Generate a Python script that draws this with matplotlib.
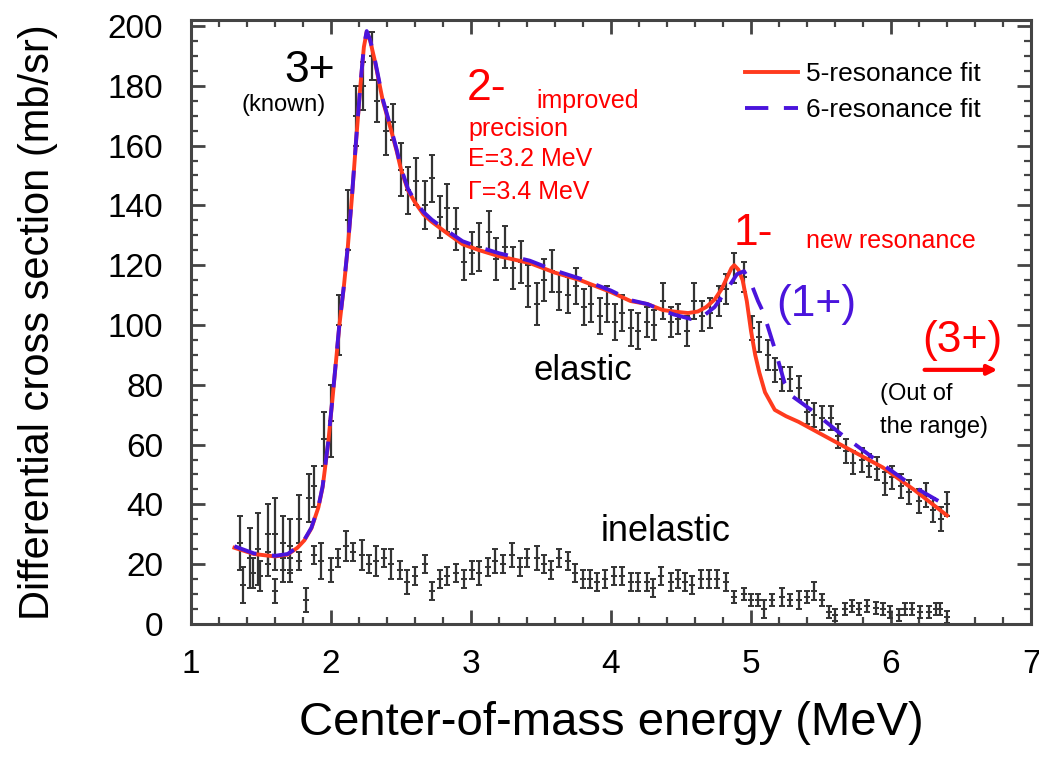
import numpy as np
import matplotlib
matplotlib.use("Agg")
import matplotlib.pyplot as plt
from matplotlib.ticker import MultipleLocator

plt.rcParams['font.family'] = ['Liberation Sans', 'DejaVu Sans']

# elastic data: energy (MeV), cross section (mb/sr), error
el_E = [1.35, 1.42, 1.48, 1.55, 1.60, 1.66, 1.71, 1.77, 1.84, 1.88, 1.95, 2.00,
        2.06, 2.12, 2.18, 2.23, 2.29, 2.33, 2.39, 2.44, 2.50, 2.55, 2.61, 2.67,
        2.72, 2.78, 2.83, 2.89, 2.95, 3.01, 3.06, 3.13, 3.18, 3.24, 3.30, 3.36,
        3.41, 3.47, 3.52, 3.58, 3.63, 3.69, 3.75, 3.81, 3.86, 3.92, 3.97, 4.03,
        4.08, 4.14, 4.19, 4.26, 4.31, 4.37, 4.43, 4.48, 4.54, 4.59, 4.65, 4.71,
        4.77, 4.82, 4.88, 4.95, 5.01, 5.06, 5.12, 5.17, 5.22, 5.28, 5.34, 5.40,
        5.45, 5.51, 5.57, 5.62, 5.68, 5.73, 5.79, 5.84, 5.90, 5.96, 6.01, 6.07,
        6.13, 6.20, 6.25, 6.30, 6.36, 6.40]
el_v = [27, 22, 25, 30, 30, 27, 26, 35, 42, 46, 62, 68,
        100, 135, 170, 180, 190, 175, 165, 168, 152, 145, 148, 140,
        149, 136, 139, 132, 121, 124, 126, 131, 122, 126, 119, 121,
        113, 107, 115, 118, 111, 110, 113, 106, 107, 103, 107, 101,
        104, 99, 98, 101, 100, 108, 101, 102, 98, 108, 103, 104,
        108, 112, 119, 116, 99, 96, 90, 85, 82, 82, 79, 71,
        70, 69, 69, 63, 58, 54, 55, 53, 52, 47, 49, 46,
        44, 41, 43, 38, 35, 40]
el_err = [9, 10, 12, 10, 12, 9, 9, 8, 8, 7, 9, 12,
          10, 10, 10, 8, 8, 7, 8, 6, 9, 8, 8, 8,
          8, 7, 8, 7, 6, 7, 8, 7, 7, 7, 7, 7,
          7, 7, 7, 7, 6, 6, 6, 6, 6, 6, 6, 6,
          6, 6, 6, 5, 5, 6, 5, 5, 5, 6, 5, 5,
          5, 5, 5, 5, 4, 5, 5, 4, 4, 4, 4, 4,
          4, 4, 4, 4, 4, 4, 4, 4, 4, 4, 4, 4,
          4, 4, 4, 4, 4, 4]

# inelastic data
in_E = [1.37, 1.44, 1.49, 1.55, 1.60, 1.66, 1.71, 1.77, 1.82, 1.88, 1.93, 2.00,
        2.05, 2.11, 2.16, 2.22, 2.27, 2.32, 2.38, 2.43, 2.49, 2.54, 2.60, 2.67,
        2.72, 2.78, 2.83, 2.89, 2.95, 3.01, 3.06, 3.12, 3.17, 3.23, 3.29, 3.35,
        3.40, 3.47, 3.52, 3.57, 3.63, 3.69, 3.74, 3.80, 3.85, 3.90, 3.96, 4.02,
        4.08, 4.14, 4.19, 4.26, 4.30, 4.36, 4.43, 4.48, 4.53, 4.58, 4.64, 4.70,
        4.76, 4.82, 4.88, 4.95, 5.00, 5.05, 5.09, 5.15, 5.22, 5.28, 5.34, 5.40,
        5.45, 5.51, 5.56, 5.60, 5.67, 5.72, 5.77, 5.83, 5.89, 5.94, 5.99, 6.06,
        6.10, 6.15, 6.21, 6.27, 6.32, 6.35, 6.40]
in_v = [13, 17, 16, 20, 11, 18, 18, 21, 8, 23, 21, 18,
        22, 26, 24, 23, 20, 21, 22, 20, 18, 14, 16, 20,
        11, 15, 16, 17, 15, 18, 17, 19, 21, 20, 23, 19,
        22, 22, 20, 18, 22, 21, 17, 15, 15, 14, 15, 16,
        16, 14, 14, 14, 12, 16, 14, 15, 14, 13, 15, 15,
        15, 14, 9, 10, 8, 8, 5, 8, 9, 8, 8, 9,
        11, 8, 4, 3, 5, 6, 5, 6, 5.5, 5, 4, 3,
        5, 5, 4, 4, 5, 5, 2.5]
in_err = [6, 5, 5, 4, 4, 4, 4, 3, 4, 3, 6, 4,
          3, 5, 3, 5, 3, 5, 3, 5, 3, 4, 3, 3,
          3, 3, 3, 3, 3, 3, 4, 3, 4, 3, 4, 3,
          3, 4, 3, 3, 3, 3, 3, 3, 3, 3, 3, 3,
          3, 3, 3, 3, 3, 3, 3, 3, 3, 3, 3, 3,
          3, 3, 2, 2, 2, 2, 3, 2, 3, 2, 3, 2,
          3, 2, 2, 2, 2, 2, 2, 2, 2, 2, 2, 2,
          2, 2, 2, 2, 2, 2, 2]

# 5-resonance fit
fit5_E = [1.31, 1.45, 1.60, 1.69, 1.76, 1.81, 1.86, 1.91, 1.94, 1.98, 2.01, 2.03,
          2.06, 2.09, 2.12, 2.15, 2.18, 2.21, 2.235, 2.255, 2.28, 2.31, 2.34, 2.37,
          2.40, 2.43, 2.47, 2.50, 2.55, 2.60, 2.66, 2.72, 2.82, 2.94, 3.06, 3.20,
          3.42, 3.60, 3.78, 4.00, 4.14, 4.26, 4.37, 4.45, 4.55, 4.62, 4.68, 4.74,
          4.79, 4.83, 4.86, 4.88, 4.91, 4.94, 4.97, 5.00, 5.03, 5.06, 5.10, 5.17,
          5.25, 5.34, 5.58, 5.94, 6.17, 6.40]
fit5_v = [25.5, 23.4, 22.6, 23.2, 25.5, 28, 32, 39, 45.7, 60.5, 75, 85,
          100, 112, 126, 143, 162, 180, 193, 198, 195, 189, 182, 175,
          170, 165, 158, 152, 145, 141, 137, 134.5, 131, 127, 125, 123,
          120.7, 117.5, 115, 111, 108, 107, 105, 104.5, 104, 104.5, 106, 108.5,
          112, 116, 119, 120, 118.5, 115, 108, 98, 90, 84, 77.5, 71.6,
          69.5, 67.6, 61.5, 52.4, 44.7, 36.3]

# 6-resonance fit
fit6_E = [1.31, 1.45, 1.60, 1.69, 1.76, 1.81, 1.86, 1.91, 1.94, 1.98, 2.01, 2.03,
          2.06, 2.09, 2.12, 2.15, 2.18, 2.21, 2.235, 2.255, 2.28, 2.31, 2.34, 2.37,
          2.40, 2.43, 2.47, 2.50, 2.55, 2.60, 2.66, 2.72, 2.82, 2.94, 3.06, 3.20,
          3.42, 3.60, 3.78, 4.00, 4.14, 4.26, 4.37, 4.45, 4.57, 4.66, 4.74, 4.83,
          4.90, 4.95, 5.00, 5.05, 5.09, 5.17, 5.24, 5.30, 5.43, 5.63, 5.86, 6.17,
          6.37]
fit6_v = [26, 23.6, 22.8, 23.4, 25.7, 28.2, 32.2, 39.2, 46, 60.8, 75.3, 85.3,
          100.3, 112.3, 126.3, 143.3, 162.3, 180.3, 193.3, 198.3, 195.3, 189.5, 182.5, 175.5,
          170.5, 165.5, 158.5, 152.5, 145.5, 141.5, 137.8, 135.2, 131.8, 128, 126, 124,
          121.5, 118.2, 115.5, 111.5, 108.3, 107, 104.8, 103.5, 102, 103, 106, 112,
          117, 118, 114, 108, 104, 92, 80.6, 76, 71.6, 64, 56, 45.7,
          40.3]

red_fit = '#ff3b1e'
blue_fit = '#4a14dc'
axis_col = '#444444'
data_col = '#333333'

fig = plt.figure(figsize=(10.39, 7.66), dpi=100)
ax = fig.add_axes([191 / 1039, 1 - 624 / 766, 840 / 1039, 604 / 766])

eb_kw = dict(fmt='_', ms=5, color=data_col, ecolor=data_col, elinewidth=1.6,
             capsize=2.5, capthick=1.4, mew=1.4, zorder=2)
ax.errorbar(el_E, el_v, yerr=el_err, **eb_kw)
ax.errorbar(in_E, in_v, yerr=in_err, **eb_kw)

ax.plot(fit5_E, fit5_v, color=red_fit, lw=2.8, zorder=3, label='5-resonance fit')
ax.plot(fit6_E, fit6_v, color=blue_fit, lw=2.8, dashes=(6, 4), zorder=4,
        label='6-resonance fit')

ax.set_xlim(1, 7)
ax.set_ylim(0, 202)
ax.xaxis.set_major_locator(MultipleLocator(1))
ax.xaxis.set_minor_locator(MultipleLocator(0.2))
ax.yaxis.set_major_locator(MultipleLocator(20))
ax.yaxis.set_minor_locator(MultipleLocator(5))
ax.tick_params(which='both', direction='in', top=True, right=True, color=axis_col)
ax.tick_params(which='major', length=10, width=2)
ax.tick_params(which='minor', length=5, width=1.6)
ax.tick_params(axis='y', which='major', labelsize=24, pad=20)
ax.tick_params(axis='x', which='major', labelsize=24, pad=18)
for s in ax.spines.values():
    s.set_color(axis_col)
    s.set_linewidth(2.2)

ax.set_ylabel('Differential cross section (mb/sr)', fontsize=30)
ax.yaxis.set_label_coords(-0.158, 0.5)
ax.set_xlabel('Center-of-mass energy (MeV)', fontsize=34)
ax.xaxis.set_label_coords(0.5, -0.128)

leg = ax.legend(loc='upper right', bbox_to_anchor=(0.94, 0.93), frameon=False,
                fontsize=19, handlelength=2.0, handletextpad=0.3,
                labelspacing=0.45, borderpad=0, borderaxespad=0)

# annotations
ax.text(1.85, 185, '3+', fontsize=32, ha='center', va='center')
ax.text(1.66, 173.5, '(known)', fontsize=17, ha='center', va='center')
ax.text(3.11, 179, '2-', fontsize=32, color='red', ha='center', va='center')
ax.text(3.83, 175, 'improved', fontsize=18, color='red', ha='center', va='center')
ax.text(2.98, 165.5, 'precision', fontsize=18, color='red', ha='left', va='center')
ax.text(2.98, 155.5, 'E=3.2 MeV', fontsize=18, color='red', ha='left', va='center')
ax.text(2.98, 144.5, '\u0393=3.4 MeV', fontsize=18, color='red', ha='left', va='center')
ax.text(5.02, 130.6, '1-', fontsize=32, color='red', ha='center', va='center')
ax.text(6.0, 128, 'new resonance', fontsize=18, color='red', ha='center', va='center')
ax.text(5.47, 106.9, '(1+)', fontsize=32, color=blue_fit, ha='center', va='center')
ax.text(6.51, 94.8, '(3+)', fontsize=32, color='red', ha='center', va='center')
ax.annotate('', xy=(6.78, 85), xytext=(6.22, 85),
            arrowprops=dict(arrowstyle='-|>', color='red', lw=3, mutation_scale=14))
ax.text(5.92, 77, '(Out of', fontsize=17, ha='left', va='center')
ax.text(5.92, 66, 'the range)', fontsize=17, ha='left', va='center')
ax.text(3.8, 84.8, 'elastic', fontsize=25, ha='center', va='center')
ax.text(4.39, 30.8, 'inelastic', fontsize=26, ha='center', va='center')

fig.savefig('out.png', dpi=100)
